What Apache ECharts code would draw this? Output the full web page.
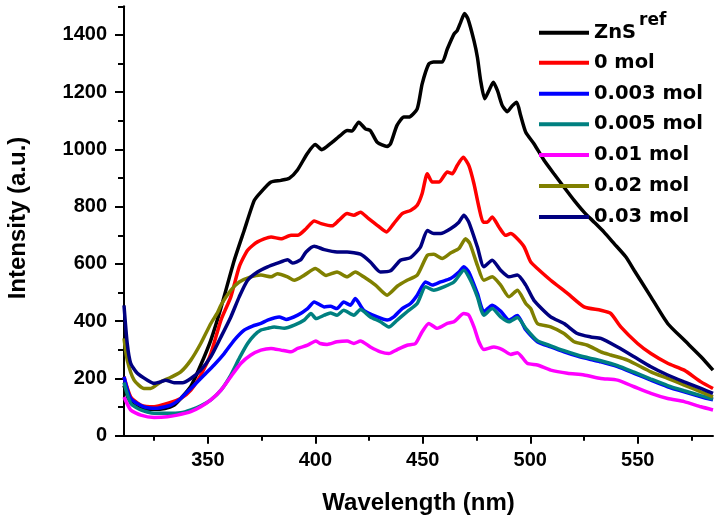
<!DOCTYPE html>
<html><head><meta charset="utf-8">
<script src="https://cdn.jsdelivr.net/npm/echarts@6/dist/echarts.min.js"></script>
<style>html,body{margin:0;padding:0;background:#fff}#c{width:720px;height:522px}</style>
</head><body><div id="c"></div>
<script>
// ---- data ----
const seriesNames = ['ZnSref', '0 mol', '0.003 mol', '0.005 mol', '0.01 mol', '0.02 mol', '0.03 mol'];
const seriesColors = ['#000000', '#ff0000', '#0000ff', '#008080', '#ff00ff', '#808000', '#000080'];

const xMajorTicks = [350, 400, 450, 500, 550];
const xMinorTicks = [325, 375, 425, 475, 525, 575];
const yMajorTicks = [0, 200, 400, 600, 800, 1000, 1200, 1400];
const yMinorTicks = [100, 300, 500, 700, 900, 1100, 1300, 1500];

const blackNm = [311,313,316,320,325,330,334,337.4,342,346.7,351.4,356,362.3,366.9,371.6,374.7,379.4,384,387.9,391.6,396.3,400,403,407,411.7,414.8,417,420.2,423.3,425.6,428.8,433.4,435,438,441.2,443.5,447.4,449.7,452.8,455,459,461.4,464.5,466,467.6,469.4,471,473.8,475.4,476.9,478.8,480.8,482.8,484.7,487,489.3,491.7,493.7,495.5,497.9,501.7,506.4,511,515.7,520.4,525,529.7,534.3,539,544.5,548.3,556.1,563.9,571.6,579.4,585];
const blackI = [175,130,105,95,92,95,105,130,171,247,334,444,613,717,822,851,886,892,899,927,986,1017,999,1020,1049,1066,1064,1095,1072,1066,1025,1010,1020,1084,1113,1113,1142,1229,1299,1305,1305,1351,1403,1415,1444,1475,1456,1380,1322,1241,1177,1206,1235,1206,1153,1132,1153,1165,1119,1060,1020,962,915,868,822,781,746,711,671,624,578,485,392,334,276,229];

const redNm = [311,314.1,318.8,325,331.2,337.4,342.1,346.7,351.4,356.1,360.7,364.6,368.5,373.1,379.4,384,388.7,391.8,395.7,399.5,402.7,407.8,410.9,414.8,417.9,421,424.8,428.8,433.1,436.5,440.4,444.3,447.4,449.7,452.1,454.4,457.5,461.4,463.7,466,468.8,471.4,473.8,476.1,478.1,480,482.3,485.4,488.5,490.9,493.2,497.1,500.2,503.3,509.5,517.3,525,532.8,537.4,542.1,549.9,556.1,563.9,571.6,579.4,585];
const redI = [206,136,107,101,113,130,159,212,287,404,485,590,648,677,694,688,700,700,723,750,741,733,752,776,770,781,758,735,712,741,776,787,805,846,915,886,886,921,915,944,973,944,880,799,746,746,764,729,700,706,694,660,607,584,543,497,450,438,427,380,322,287,253,229,188,165];

const blueNm = [311,314.1,320.3,326.5,332.8,337.4,342.1,348.3,352.9,357.6,362.3,366.9,370.8,374.7,377.8,383.2,386.4,391.8,396.4,399.5,404.2,407,410.1,413.2,416.3,418.6,422.5,428.8,433.4,436.5,440.4,444.3,447.4,451.3,454.4,458.3,462.9,466.8,469.1,471.4,475.4,478.4,482.3,486.2,490.1,494,497.9,503.3,509.5,515.7,521.9,528.1,532.8,540.6,548.3,556.1,563.9,571.6,579.4,585];
const blueI = [206,130,101,96,107,130,165,212,247,287,334,369,383,392,404,415,406,421,444,467,450,452,444,467,456,479,438,415,404,415,444,462,491,537,526,537,549,572,590,572,497,433,456,435,404,420,370,328,310,293,278,266,258,241,218,194,171,153,136,125];

const tealNm = [311,314.1,318.8,325,331.2,337.4,342.1,346.7,351.4,356.1,360.7,364.6,368.5,371.6,374.7,377.8,380.9,385.6,390.2,394.9,398,400.3,404.2,407,410.1,413.2,417.9,421,425.6,430.3,434.2,438.1,442.7,447.4,451.3,455.1,459.8,464.5,469.1,472.2,475.4,478.4,482.3,486.2,490.1,494,497.9,503.3,509.5,515.7,521.9,528.1,532.8,540.6,548.3,556.1,563.9,571.6,579.4,585];
const tealI = [186,113,90,78,78,80,90,104,125,159,212,270,322,351,369,375,380,375,386,404,427,409,421,429,421,438,421,441,415,398,380,404,433,462,520,508,520,537,578,543,485,421,444,415,398,413,375,332,314,297,282,270,262,245,222,198,175,157,140,128];

const magentaNm = [311,314.1,318.8,325,331.2,335.8,342.1,346.7,351.4,356.1,360.7,365.4,370,374.7,379.4,384,388.7,391.8,396.4,400.3,402.3,405.5,410.1,414.8,417.9,421,425.6,430.3,434.2,438.1,442.7,446.6,449.7,452.8,456.7,461.4,464.5,469.1,471.4,473.8,476.1,478.4,483.1,487,490.9,494,498.6,503.3,509.5,517.3,525,532.8,540.6,548.3,556.1,563.9,571.6,579.4,585];
const magentaI = [135,90,72,64,66,72,84,101,125,159,206,253,282,299,305,299,293,305,316,331,322,319,328,331,322,331,310,293,287,301,316,322,363,392,375,392,398,427,421,380,328,301,310,301,284,290,253,247,229,218,212,200,194,171,148,130,119,101,90];

const oliveNm = [311,312.5,315.7,320.3,323.4,328.1,332.8,337.4,342.1,346.7,351.4,354.5,356.1,360.7,364.6,370,374.7,379.4,382.4,387.1,390.2,394.9,400,405,410.1,414.8,418.6,422.5,428,433.4,438.1,442.7,447.4,452.1,455.1,459,462.9,466.8,469.9,471.9,475.4,478.4,482.3,486.2,490.1,494,497.9,500.2,503.3,509.5,515.7,520.4,526.6,532.8,537.4,545.2,556.1,563.9,571.6,579.4,585];
const oliveI = [340,264,194,165,165,188,204,223,264,322,392,430,456,508,537,555,561,555,566,555,543,561,584,560,572,555,572,555,526,491,522,543,561,630,634,619,638,654,688,671,595,543,555,526,485,508,462,444,392,380,357,328,316,293,282,264,223,200,177,153,136];

const navyNm = [311,312.5,314.1,317.2,321.9,325,328.1,330.4,334.3,338.2,342.1,346.7,351.4,356.1,360.7,364.6,368.5,373.1,377.8,382.4,387.1,389.4,393.3,395.7,399.5,404.2,410.1,414.8,421,425.6,430.3,435,439.6,444.3,448.9,452.1,455.1,458.3,462.9,466.8,469.1,471.4,475.4,478.4,482.3,486.2,490.1,494,497.9,501.7,509.5,515.7,521.9,528.1,532.8,540.6,548.3,556.1,563.9,571.6,579.4,585];
const navyI = [455,322,253,218,194,183,188,194,185,185,200,229,276,345,415,485,543,572,590,603,615,603,615,642,662,650,642,642,634,607,572,576,613,622,659,717,706,706,723,746,770,746,659,590,613,578,555,561,526,473,415,392,357,345,340,310,276,241,212,188,165,148];

// ---- build chart ----
const xs = [blackNm, redNm, blueNm, tealNm, magentaNm, oliveNm, navyNm];
const ys = [blackI, redI, blueI, tealI, magentaI, oliveI, navyI];
const legendCenters = [31.7, 61.7, 92.7, 123.3, 154, 185, 216];

const FONT = 'Liberation Sans';
const LFONT = 'DejaVu Sans';
const axisCommon = { type: 'value', splitLine: { show: false } };

const chart = echarts.init(document.getElementById('c'), null, { renderer: 'canvas' });

const legends = seriesNames.map((n, i) => ({
  data: [n],
  orient: 'vertical',
  left: 539,
  top: legendCenters[i] - 11,
  padding: 0,
  itemWidth: 50,
  itemHeight: 4,
  icon: 'rect',
  selectedMode: false,
  formatter: name => name === 'ZnSref' ? 'ZnS' : name,
  textStyle: { fontFamily: LFONT, fontWeight: 'bold', fontSize: 19.5, color: '#000', lineHeight: 24 }
}));

const option = {
  animation: false,
  backgroundColor: '#fff',
  grid: { left: 124, top: 6.3, right: 7, bottom: 86.3 },
  xAxis: [
    Object.assign({}, axisCommon, {
      min: 311, max: 585, position: 'bottom',
      axisLine: { show: true, lineStyle: { color: '#000', width: 2 } },
      axisTick: { show: true, customValues: xMajorTicks, length: 8, lineStyle: { color: '#000', width: 2 } },
      axisLabel: { show: true, customValues: xMajorTicks, margin: 15, fontFamily: FONT, fontWeight: 'bold', fontSize: 20, color: '#000', formatter: v => String(v) },
      name: 'Wavelength (nm)', nameLocation: 'middle', nameGap: 56,
      nameTextStyle: { fontFamily: FONT, fontWeight: 'bold', fontSize: 24, color: '#000' }
    }),
    Object.assign({}, axisCommon, {
      min: 311, max: 585, position: 'bottom', gridIndex: 0,
      axisLine: { show: false },
      axisTick: { show: true, customValues: xMinorTicks, length: 5, lineStyle: { color: '#000', width: 2 } },
      axisLabel: { show: false }
    })
  ],
  yAxis: [
    Object.assign({}, axisCommon, {
      min: 0, max: 1500, position: 'left',
      axisLine: { show: true, lineStyle: { color: '#000', width: 2 } },
      axisTick: { show: true, customValues: yMajorTicks, length: 9, lineStyle: { color: '#000', width: 2 } },
      axisLabel: { show: true, customValues: yMajorTicks, margin: 17, fontFamily: FONT, fontWeight: 'bold', fontSize: 20, color: '#000', formatter: v => String(v) }
    }),
    Object.assign({}, axisCommon, {
      min: 0, max: 1500, position: 'left', gridIndex: 0,
      axisLine: { show: false },
      axisTick: { show: true, customValues: yMinorTicks, length: 6, lineStyle: { color: '#000', width: 2 } },
      axisLabel: { show: false }
    })
  ],
  legend: legends,
  graphic: [
    {
      type: 'text', x: 18, y: 218, rotation: Math.PI / 2,
      style: { text: 'Intensity (a.u.)', fontFamily: FONT, fontWeight: 'bold', fontSize: 24, fill: '#000', align: 'center', verticalAlign: 'middle' }
    },
    {
      type: 'text', x: 639, y: 20.5, z: 100,
      style: { text: 'ref', fontFamily: LFONT, fontWeight: 'bold', fontSize: 17, fill: '#000', align: 'left', verticalAlign: 'middle' }
    }
  ],
  series: seriesNames.map((n, i) => ({
    name: n, type: 'line', xAxisIndex: 0, yAxisIndex: 0,
    data: xs[i].map((x, k) => [x, ys[i][k]]),
    showSymbol: false, symbol: 'none', smooth: 0.2,
    color: seriesColors[i],
    lineStyle: { color: seriesColors[i], width: 3.5 },
    clip: true
  }))
};
chart.setOption(option);
</script></body></html>
